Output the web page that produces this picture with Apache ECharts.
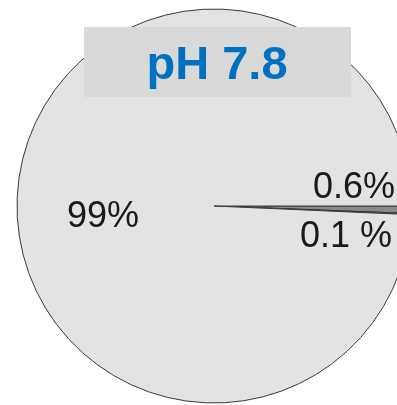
<!DOCTYPE html>
<html>
<head>
<meta charset="utf-8">
<script src="https://cdn.jsdelivr.net/npm/echarts@6/dist/echarts.min.js"></script>
<style>
  html, body { margin: 0; padding: 0; background: #ffffff; }
  #chart { width: 397px; height: 405px; }
</style>
</head>
<body>
<div id="chart"></div>
<script>
// Species distribution at pH 7.8
const titleText = 'pH 7.8';
const sliceNames = ['A', 'B', 'C'];
const sliceValues = [0.6, 0.1, 99.3];
const sliceLabels = ['0.6%', '0.1 %', '99%'];
const sliceColors = ['#8a8a8a', '#555555', '#e3e3e3'];

const chart = echarts.init(document.getElementById('chart'), null, { renderer: 'canvas' });

const data = sliceNames.map((n, i) => ({
  name: n,
  value: sliceValues[i],
  itemStyle: { color: sliceColors[i] },
  label: { formatter: sliceLabels[i] }
}));

// label anchor points (left edge / vertical middle of each text)
const labelPos = [
  { x: 313, y: 188 },
  { x: 300, y: 237 },
  { x: 67, y: 217 }
];

chart.setOption({
  animation: false,
  backgroundColor: '#ffffff',
  series: [{
    type: 'pie',
    center: [214, 206],
    radius: 197,
    startAngle: 0,
    clockwise: true,
    minAngle: 0,
    avoidLabelOverlap: false,
    silent: true,
    itemStyle: { borderColor: '#3a3a3a', borderWidth: 1 },
    label: {
      show: true,
      position: 'inside',
      color: '#1a1a1a',
      fontFamily: 'Liberation Sans, Arial, sans-serif',
      fontSize: 36
    },
    labelLine: { show: false },
    labelLayout: function (p) {
      const pos = labelPos[p.dataIndex];
      return { x: pos.x, y: pos.y, align: 'left', verticalAlign: 'middle', hideOverlap: false, moveOverlap: false };
    },
    data: data
  }],
  graphic: [
    {
      type: 'rect',
      shape: { x: 84, y: 27, width: 267, height: 70 },
      style: { fill: '#d9d9d9' },
      z: 10
    },
    {
      type: 'text',
      x: 217,
      y: 66,
      z: 11,
      style: {
        text: titleText,
        fill: '#0070c0',
        font: 'bold 47px "Liberation Sans", Arial, sans-serif',
        align: 'center',
        verticalAlign: 'middle'
      }
    }
  ]
});
</script>
</body>
</html>
